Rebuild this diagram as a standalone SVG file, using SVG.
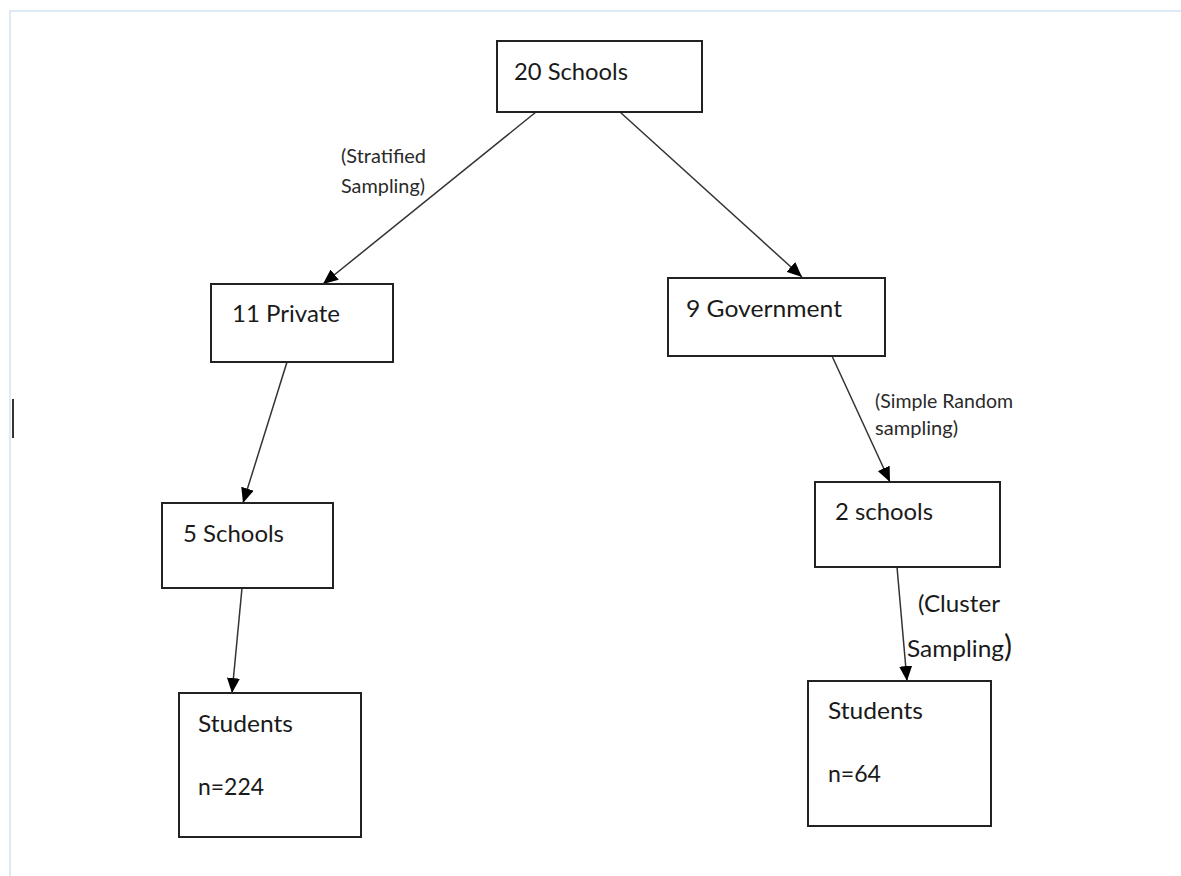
<svg xmlns="http://www.w3.org/2000/svg" width="1181" height="876" viewBox="0 0 1181 876">
<defs>
<style>
.box{fill:#fff;stroke:#222;stroke-width:2}
.t{font-family:Lato,"Noto Sans",sans-serif;font-size:23px;fill:#1a1a1a}
.l{font-family:Lato,"Noto Sans",sans-serif;font-size:20px;fill:#2a2a2a}
.c{stroke:#333;stroke-width:1.5;fill:none;marker-end:url(#ah)}
</style>
<marker id="ah" viewBox="0 0 15 13" refX="15" refY="6.5" markerWidth="15" markerHeight="13" markerUnits="userSpaceOnUse" orient="auto">
<path d="M0,0 L15,6.5 L0,13 z" fill="#000"/>
</marker>
</defs>
<rect width="1181" height="876" fill="#fff"/>
<path d="M10,876 V11 H1181" fill="none" stroke="#dde9f5" stroke-width="2"/>
<line x1="13" y1="399" x2="13" y2="438" stroke="#333" stroke-width="2"/>
<g id="connectors">
<line class="c" x1="536" y1="112" x2="323" y2="284"/>
<line class="c" x1="620" y1="112" x2="802" y2="277"/>
<line class="c" x1="287" y1="362" x2="243" y2="503"/>
<line class="c" x1="832" y1="356" x2="890" y2="482"/>
<line class="c" x1="242" y1="588" x2="232" y2="693"/>
<line class="c" x1="897" y1="567" x2="907" y2="681"/>
</g>
<g id="labels">
<text class="l" x="341" y="163" textLength="85" lengthAdjust="spacingAndGlyphs">(Stratified</text>
<text class="l" x="341" y="193" textLength="84" lengthAdjust="spacingAndGlyphs">Sampling)</text>
<text class="l" x="875" y="408" textLength="138" lengthAdjust="spacingAndGlyphs">(Simple Random</text>
<text class="l" x="875" y="435" textLength="83" lengthAdjust="spacingAndGlyphs">sampling)</text>
<text class="t" x="918" y="612" textLength="82" lengthAdjust="spacingAndGlyphs">(Cluster</text>
<text class="t" x="907" y="657"><tspan textLength="97" lengthAdjust="spacingAndGlyphs">Sampling</tspan><tspan style="font-size:30px">)</tspan></text>
</g>
<g id="n20schools">
<rect class="box" x="497" y="41" width="205" height="71"/>
<text class="t" x="514" y="80" textLength="114" lengthAdjust="spacingAndGlyphs">20 Schools</text>
</g>
<g id="n11private">
<rect class="box" x="211" y="284" width="182" height="78"/>
<text class="t" x="232" y="322" textLength="108" lengthAdjust="spacingAndGlyphs">11 Private</text>
</g>
<g id="n9government">
<rect class="box" x="668" y="278" width="217" height="78"/>
<text class="t" x="686" y="317" textLength="156" lengthAdjust="spacingAndGlyphs">9 Government</text>
</g>
<g id="n5schools">
<rect class="box" x="162" y="503" width="171" height="85"/>
<text class="t" x="183" y="542" textLength="101" lengthAdjust="spacingAndGlyphs">5 Schools</text>
</g>
<g id="n2schools">
<rect class="box" x="815" y="482" width="185" height="85"/>
<text class="t" x="835" y="520" textLength="98" lengthAdjust="spacingAndGlyphs">2 schools</text>
</g>
<g id="nstudents224">
<rect class="box" x="179" y="693" width="182" height="144"/>
<text class="t" x="198" y="732" textLength="95" lengthAdjust="spacingAndGlyphs">Students</text>
<text class="t" x="198" y="795" textLength="66" lengthAdjust="spacingAndGlyphs">n=224</text>
</g>
<g id="nstudents64">
<rect class="box" x="808" y="681" width="183" height="145"/>
<text class="t" x="828" y="719" textLength="95" lengthAdjust="spacingAndGlyphs">Students</text>
<text class="t" x="828" y="782" textLength="53" lengthAdjust="spacingAndGlyphs">n=64</text>
</g>
</svg>
